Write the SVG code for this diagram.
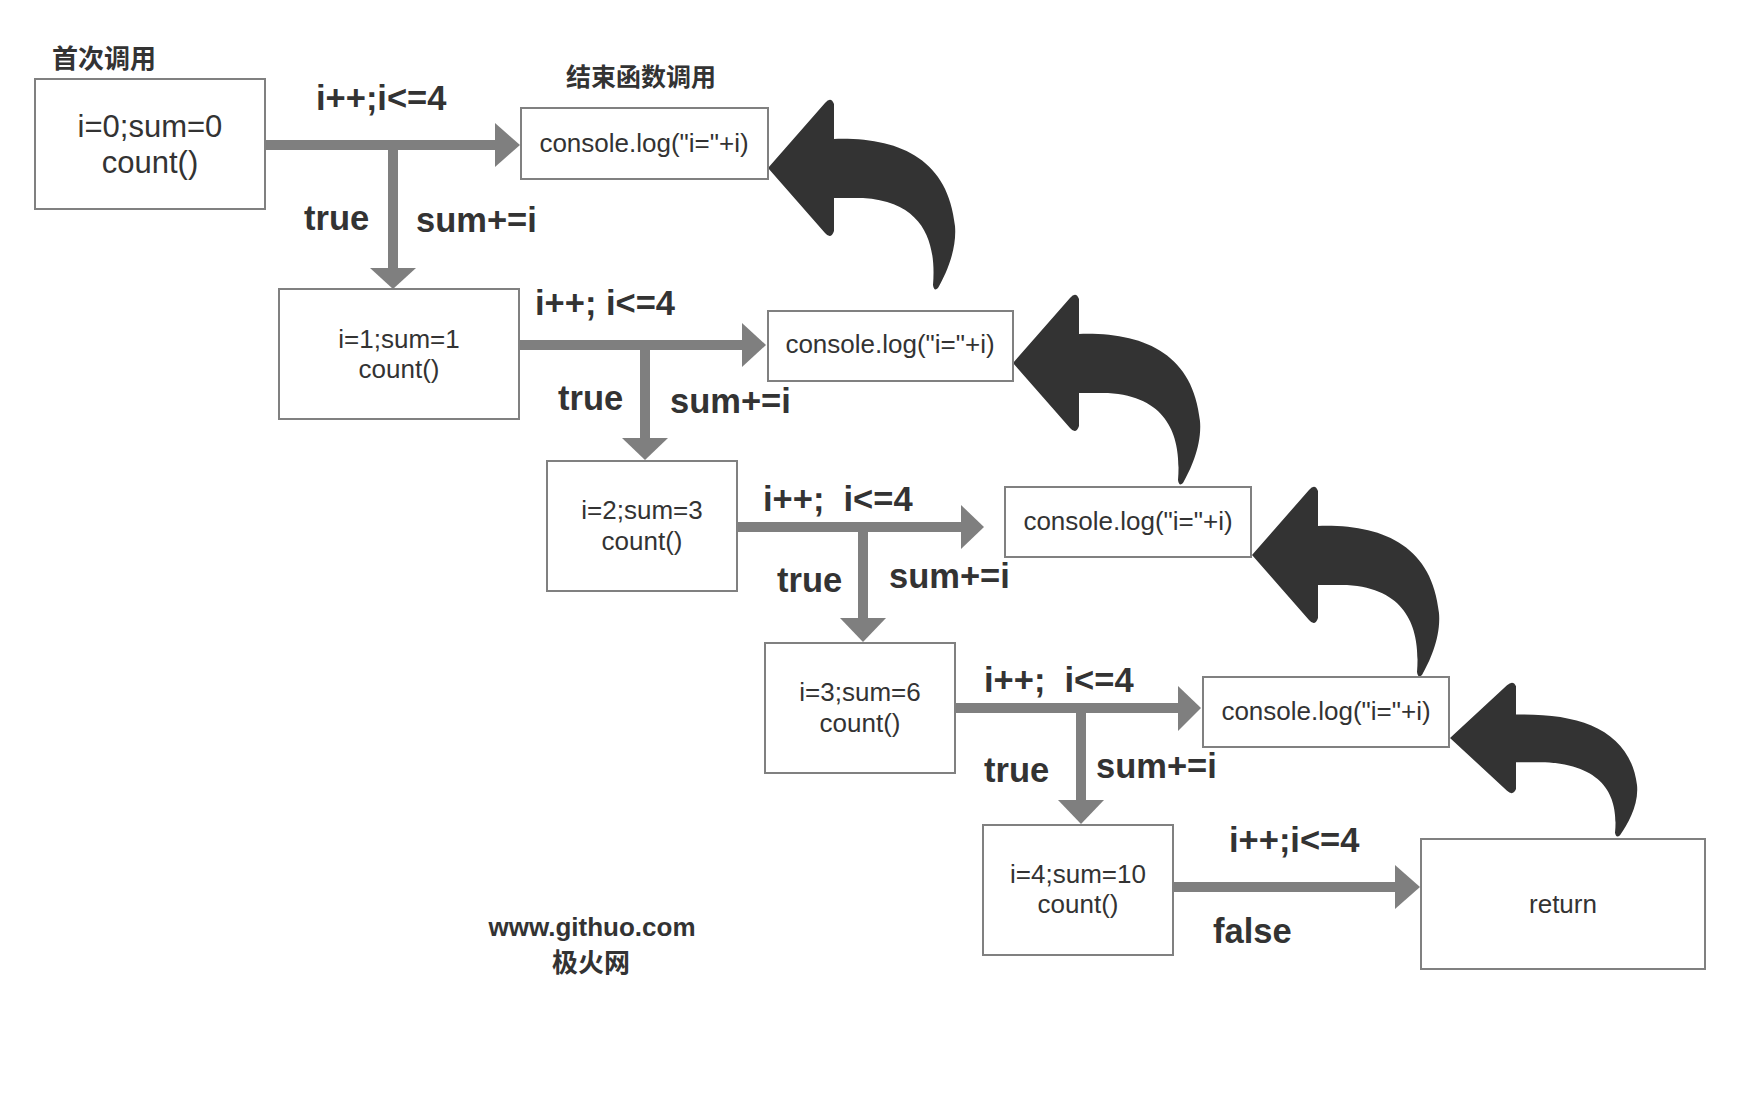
<svg xmlns="http://www.w3.org/2000/svg" width="1750" height="1100" viewBox="0 0 1750 1100">
<style>
.box{fill:#fff;stroke:#808080;stroke-width:2}
.t{font-family:"Liberation Sans",Arial,sans-serif;fill:#333;text-anchor:middle}
.lb{font-family:"Liberation Sans",Arial,sans-serif;font-weight:bold;fill:#333;font-size:34.5px}
.cn{font-family:"Liberation Sans","Noto Sans CJK SC",sans-serif;font-weight:bold;fill:#333}
.ln{stroke:#7f7f7f;stroke-width:10;fill:none}
.hd{fill:#7f7f7f}
.ca{fill:#333}
</style>
<defs>
<path id="curl" d="M0,0 L57,-65 Q63,-72 66,-64 L66,-29 C130,-31 180,-10 187,58 C189,82 178,106 170,120 Q166,124 165,117 C168,80 160,34 95,30 L66,30 L66,63 Q63,72 57,65 Z"/>
</defs>
<rect width="1750" height="1100" fill="#fff"/>
<text class="cn" x="52" y="68" font-size="26">首次调用</text>
<text class="cn" x="566" y="86" font-size="25">结束函数调用</text>
<g id="connectors">
<line class="ln" x1="265" y1="145" x2="497" y2="145"/><polygon class="hd" points="495,123 520,145 495,167"/>
<line class="ln" x1="393" y1="145" x2="393" y2="270"/><polygon class="hd" points="370,268 416,268 393,289"/>
<line class="ln" x1="519" y1="345" x2="744" y2="345"/><polygon class="hd" points="742,323 766,345 742,367"/>
<line class="ln" x1="645" y1="345" x2="645" y2="440"/><polygon class="hd" points="622,438 668,438 645,460"/>
<line class="ln" x1="737" y1="527" x2="963" y2="527"/><polygon class="hd" points="961,505 984,527 961,549"/>
<line class="ln" x1="863" y1="527" x2="863" y2="620"/><polygon class="hd" points="840,618 886,618 863,642"/>
<line class="ln" x1="955" y1="708" x2="1180" y2="708"/><polygon class="hd" points="1178,686 1201,708 1178,731"/>
<line class="ln" x1="1081" y1="708" x2="1081" y2="802"/><polygon class="hd" points="1058,800 1104,800 1081,824"/>
<line class="ln" x1="1173" y1="887" x2="1397" y2="887"/><polygon class="hd" points="1395,865 1420,887 1395,909"/>
<use href="#curl" class="ca" transform="translate(768,168)"/>
<use href="#curl" class="ca" transform="translate(1013,363)"/>
<use href="#curl" class="ca" transform="translate(1252,555)"/>
<use href="#curl" class="ca" transform="translate(1450,738) scale(1,0.81)"/>
</g>
<g id="labels">
<text class="lb" x="316" y="110">i++;i&lt;=4</text>
<text class="lb" x="304" y="230">true</text>
<text class="lb" x="416" y="232">sum+=i</text>
<text class="lb" x="535" y="315">i++; i&lt;=4</text>
<text class="lb" x="558" y="410">true</text>
<text class="lb" x="670" y="413">sum+=i</text>
<text class="lb" x="763" y="511" xml:space="preserve">i++;  i&lt;=4</text>
<text class="lb" x="777" y="592">true</text>
<text class="lb" x="889" y="588">sum+=i</text>
<text class="lb" x="984" y="692" xml:space="preserve">i++;  i&lt;=4</text>
<text class="lb" x="984" y="782">true</text>
<text class="lb" x="1096" y="778">sum+=i</text>
<text class="lb" x="1229" y="852">i++;i&lt;=4</text>
<text class="lb" x="1213" y="943">false</text>
</g>
<g id="n0"><rect class="box" x="35" y="79" width="230" height="130"/>
<text class="t" x="150" y="137" font-size="31">i=0;sum=0</text><text class="t" x="150" y="173" font-size="31">count()</text></g>
<g id="c1"><rect class="box" x="521" y="108" width="247" height="71"/>
<text class="t" x="644" y="152" font-size="26">console.log("i="+i)</text></g>
<g id="n1"><rect class="box" x="279" y="289" width="240" height="130"/>
<text class="t" x="399" y="348" font-size="26">i=1;sum=1</text><text class="t" x="399" y="378" font-size="26">count()</text></g>
<g id="c2"><rect class="box" x="768" y="311" width="245" height="70"/>
<text class="t" x="890" y="353" font-size="26">console.log("i="+i)</text></g>
<g id="n2"><rect class="box" x="547" y="461" width="190" height="130"/>
<text class="t" x="642" y="519" font-size="26">i=2;sum=3</text><text class="t" x="642" y="550" font-size="26">count()</text></g>
<g id="c3"><rect class="box" x="1005" y="487" width="246" height="70"/>
<text class="t" x="1128" y="530" font-size="26">console.log("i="+i)</text></g>
<g id="n3"><rect class="box" x="765" y="643" width="190" height="130"/>
<text class="t" x="860" y="701" font-size="26">i=3;sum=6</text><text class="t" x="860" y="732" font-size="26">count()</text></g>
<g id="c4"><rect class="box" x="1203" y="677" width="246" height="70"/>
<text class="t" x="1326" y="720" font-size="26">console.log("i="+i)</text></g>
<g id="n4"><rect class="box" x="983" y="825" width="190" height="130"/>
<text class="t" x="1078" y="883" font-size="26">i=4;sum=10</text><text class="t" x="1078" y="913" font-size="26">count()</text></g>
<g id="ret"><rect class="box" x="1421" y="839" width="284" height="130"/>
<text class="t" x="1563" y="913" font-size="26">return</text></g>
<g id="watermark">
<text class="cn" x="592" y="936" font-size="26" text-anchor="middle">www.githuo.com</text>
<text class="cn" x="591" y="972" font-size="26" text-anchor="middle">极火网</text>
</g>
</svg>
